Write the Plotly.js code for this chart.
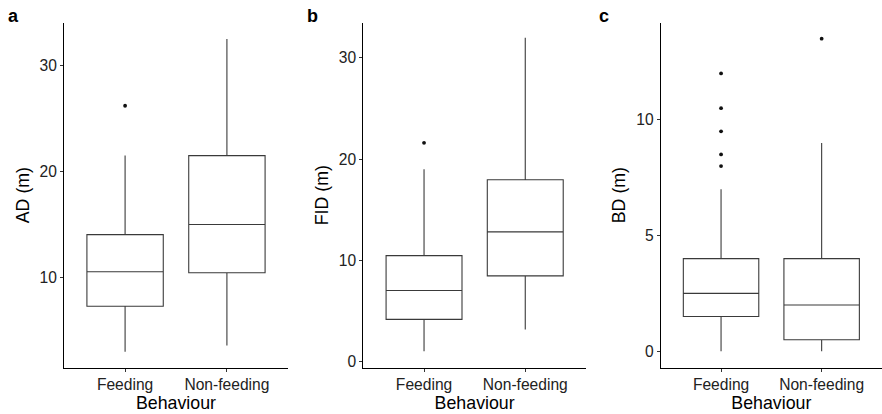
<!DOCTYPE html>
<html>
<head>
<meta charset="utf-8">
<script src="https://cdn.plot.ly/plotly-3.0.1.min.js"></script>
<style>html,body{margin:0;padding:0;background:#fff;}#chart{width:882px;height:414px;}</style>
</head>
<body>
<div id="chart"></div>
<script>
// Categories
const categories = ["Feeding", "Non-feeding"];

// Panel a: AD (m)
const adQ1 = [7.3, 10.45];
const adMedian = [10.55, 15.0];
const adQ3 = [14.05, 21.5];
const adLower = [3.0, 3.6];
const adUpper = [21.5, 32.5];
const adOutFeeding = [26.2];
const adOutNonFeeding = [];

// Panel b: FID (m)
const fidQ1 = [4.15, 8.45];
const fidMedian = [7.0, 12.8];
const fidQ3 = [10.45, 17.95];
const fidLower = [1.0, 3.15];
const fidUpper = [19.0, 32.0];
const fidOutFeeding = [21.6];
const fidOutNonFeeding = [];

// Panel c: BD (m)
const bdQ1 = [1.5, 0.5];
const bdMedian = [2.5, 2.0];
const bdQ3 = [4.0, 4.0];
const bdLower = [0, 0];
const bdUpper = [7.0, 9.0];
const bdOutFeeding = [12, 10.5, 9.5, 8.5, 8];
const bdOutNonFeeding = [13.5];

const panels = [
  {q1: adQ1, med: adMedian, q3: adQ3, lo: adLower, hi: adUpper, outF: adOutFeeding, outN: adOutNonFeeding, ax: ""},
  {q1: fidQ1, med: fidMedian, q3: fidQ3, lo: fidLower, hi: fidUpper, outF: fidOutFeeding, outN: fidOutNonFeeding, ax: "2"},
  {q1: bdQ1, med: bdMedian, q3: bdQ3, lo: bdLower, hi: bdUpper, outF: bdOutFeeding, outN: bdOutNonFeeding, ax: "3"}
];

const traces = [];
panels.forEach(p => {
  categories.forEach((c, i) => {
    traces.push({
      type: "box",
      x: [c],
      q1: [p.q1[i]], median: [p.med[i]], q3: [p.q3[i]],
      lowerfence: [p.lo[i]], upperfence: [p.hi[i]],
      width: 0.75,
      whiskerwidth: 0,
      fillcolor: "#ffffff",
      line: {color: "#3a3a3a", width: 1.1},
      boxpoints: false,
      showlegend: false,
      hoverinfo: "skip",
      xaxis: "x" + p.ax, yaxis: "y" + p.ax
    });
  });
  const outs = [p.outF, p.outN];
  categories.forEach((c, i) => {
    if (outs[i].length) {
      traces.push({
        type: "scatter", mode: "markers",
        x: outs[i].map(() => c), y: outs[i],
        marker: {color: "#111111", size: 3.8},
        showlegend: false, hoverinfo: "skip",
        xaxis: "x" + p.ax, yaxis: "y" + p.ax
      });
    }
  });
});

const W = 882, H = 414;
const yDom = [(H - 367.7) / H, (H - 22.5) / H];
const font = {family: "Liberation Sans, Arial, sans-serif", color: "#000"};

function xax(l, r) {
  return {
    domain: [l / W, r / W], type: "category", categoryorder: "array", categoryarray: categories,
    range: [-0.6, 1.6], showline: true, linecolor: "#000", linewidth: 1,
    ticks: "outside", ticklen: 3, tickcolor: "#333", showgrid: false, zeroline: false,
    tickfont: {family: font.family, size: 15.6, color: "#222"},
    title: {text: "Behaviour", font: {family: font.family, size: 17.8, color: "#000"}, standoff: 1},
    fixedrange: true
  };
}
function yax(range, dtick, title, anchor) {
  return {
    domain: yDom, range: range, dtick: dtick, showline: true, linecolor: "#000", linewidth: 1,
    ticks: "outside", ticklen: 3, tickcolor: "#333", showgrid: false, zeroline: false,
    tickfont: {family: font.family, size: 15.6, color: "#222"},
    title: {text: title, font: {family: font.family, size: 17.8, color: "#000"}, standoff: 5},
    anchor: anchor, fixedrange: true
  };
}

const layout = {
  width: W, height: H,
  margin: {l: 0, r: 0, t: 0, b: 0},
  paper_bgcolor: "#fff", plot_bgcolor: "#fff",
  showlegend: false,
  xaxis: Object.assign(xax(64, 288), {anchor: "y"}),
  yaxis: yax([1.5, 34.05], 10, "AD (m)", "x"),
  xaxis2: Object.assign(xax(363.3, 586), {anchor: "y2"}),
  yaxis2: yax([-0.63, 33.5], 10, "FID (m)", "x2"),
  xaxis3: Object.assign(xax(660.7, 882), {anchor: "y3"}),
  yaxis3: yax([-0.71, 14.2], 5, "BD (m)", "x3"),
  annotations: [
    {text: "<b>a</b>", x: 6 / W, y: 1 - 16 / H},
    {text: "<b>b</b>", x: 305 / W, y: 1 - 16 / H},
    {text: "<b>c</b>", x: 597 / W, y: 1 - 16 / H}
  ].map(a => Object.assign(a, {xref: "paper", yref: "paper", xanchor: "left", yanchor: "middle", showarrow: false, font: {family: font.family, size: 18, color: "#000"}}))
};

Plotly.newPlot("chart", traces, layout, {staticPlot: true, displayModeBar: false});
</script>
</body>
</html>
